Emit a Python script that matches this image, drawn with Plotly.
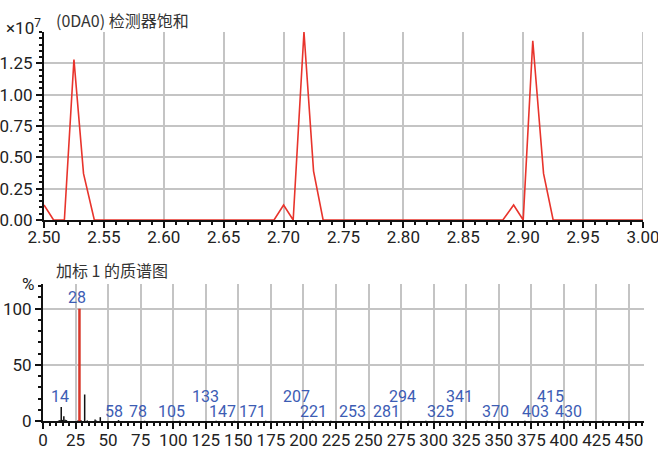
import plotly.graph_objects as go

# ---- chromatogram: detector saturation trace (time in min, intensity in counts)
chrom_time = [2.500, 2.508, 2.517, 2.525, 2.533, 2.542,
              2.692, 2.700, 2.708, 2.717, 2.725, 2.733,
              2.883, 2.892, 2.900, 2.908, 2.917, 2.925, 3.000]
chrom_intensity = [0.12e7, 0.0, 0.0, 1.28e7, 0.37e7, 0.0,
                   0.0, 0.12e7, 0.0, 1.50e7, 0.39e7, 0.0,
                   0.0, 0.12e7, 0.0, 1.43e7, 0.37e7, 0.0, 0.0]
chrom_yticks = [0.0, 0.25e7, 0.50e7, 0.75e7, 1.00e7, 1.25e7]
chrom_xticks = [2.50, 2.55, 2.60, 2.65, 2.70, 2.75, 2.80, 2.85, 2.90, 2.95, 3.00]

# ---- mass spectrum of spike 1 (m/z, relative abundance %)
base_mz = 28
base_abund = 100.0
ms_mz = [12, 13, 14, 15, 16, 17, 18, 27, 29, 32, 34, 40, 41, 44, 58,
         78, 105, 133, 147, 171, 207, 221, 253, 281, 294, 325, 341, 370,
         403, 415, 430]
ms_abund = [0.4, 0.8, 12.5, 1.0, 4.2, 1.2, 0.8, 0.6, 0.8, 23.6, 0.5, 1.4, 0.4, 3.4, 0.8,
            0.2, 0.2, 0.2, 0.2, 0.2, 0.3, 0.2, 0.2, 0.2, 0.2, 0.2, 0.2, 0.2,
            0.2, 0.2, 0.2]
labelled_mz = [14, 28, 58, 78, 105, 133, 147, 171, 207, 221, 253, 281, 294,
               325, 341, 370, 403, 415, 430]
upper_row_mz = [14, 133, 207, 294, 341, 415]

NUM_FONT = "Roboto, Liberation Sans, sans-serif"
CJK = "Noto Sans CJK SC, Noto Sans, sans-serif"
TXT = "#222222"
GRID = "#c4c4c4"
LABEL_BLUE = "#3c5cb4"
W, H = 658, 452


def px_x(p):
    return p / W


def px_y(p):
    return (H - p) / H


fig = go.Figure()

# chromatogram line
fig.add_trace(go.Scatter(
    x=chrom_time, y=chrom_intensity, mode="lines",
    line=dict(color="#e8342c", width=1.6), xaxis="x", yaxis="y",
    hoverinfo="skip", showlegend=False))

# spectrum sticks
sx, sy = [], []
for m, a in zip(ms_mz, ms_abund):
    sx += [m, m, None]
    sy += [0, a, None]
fig.add_trace(go.Scatter(
    x=sx, y=sy, mode="lines", line=dict(color="#111111", width=1.5),
    xaxis="x2", yaxis="y2", hoverinfo="skip", showlegend=False))
fig.add_trace(go.Scatter(
    x=[base_mz, base_mz], y=[0, base_abund], mode="lines",
    line=dict(color="#d8372a", width=2.5),
    xaxis="x2", yaxis="y2", hoverinfo="skip", showlegend=False))

axis_common = dict(
    showline=True, linecolor="#111111", linewidth=2,
    ticks="outside", ticklen=6, tickwidth=1.5, tickcolor="#111111",
    showgrid=True, gridcolor=GRID, gridwidth=2, zeroline=False,
    tickfont=dict(family=NUM_FONT, size=17, color=TXT),
    layer="below traces", fixedrange=True, automargin=False, tickangle=0,
    ticklabeloverflow="allow",
)

fig.update_layout(
    width=W, height=H, margin=dict(l=0, r=0, t=0, b=0, autoexpand=False),
    paper_bgcolor="white", plot_bgcolor="white", showlegend=False,
    xaxis=dict(axis_common, domain=[px_x(44), px_x(643)], range=[2.5, 3.0],
               tickvals=chrom_xticks, ticktext=[f"{v:.2f}" for v in chrom_xticks],
               minor=dict(dtick=0.01, ticklen=3, tickcolor="#111111", showgrid=False),
               ticklabelstandoff=-5, anchor="y"),
    yaxis=dict(axis_common, domain=[px_y(220), px_y(32)], range=[0, 1.5e7],
               tickvals=chrom_yticks, ticktext=[f"{v / 1e7:.2f}" for v in chrom_yticks],
               minor=dict(dtick=0.05e7, ticklen=3, tickcolor="#111111", showgrid=False),
               anchor="x"),
    xaxis2=dict(axis_common, domain=[px_x(43), px_x(644)], range=[0, 461.5],
                tick0=0, dtick=25,
                minor=dict(dtick=5, ticklen=3, tickcolor="#111111", showgrid=False),
                ticklabelstandoff=-3, anchor="y2"),
    yaxis2=dict(axis_common, domain=[px_y(421), px_y(284)], range=[0, 122],
                tickvals=[0, 50, 100],
                minor=dict(dtick=10, ticklen=3, tickcolor="#111111", showgrid=False),
                anchor="x2"),
    # scale used for placing the peak m/z labels
    xaxis3=dict(domain=[px_x(43), px_x(644)], range=[0, 491.7], visible=False,
                overlaying="x2", anchor="y2", fixedrange=True),
)

# grid line at the closing time tick (right edge of the chromatogram)
fig.add_shape(type="line", xref="x", yref="y domain",
              x0=chrom_xticks[-1], x1=chrom_xticks[-1], y0=0, y1=1,
              line=dict(color=GRID, width=2), layer="below")

annotations = [
    dict(text="(0DA0) 检测器饱和", x=px_x(54), y=px_y(20), xref="paper", yref="paper",
         xanchor="left", yanchor="middle", showarrow=False,
         font=dict(family=CJK, size=16, color="#333333")),
    dict(text="×10<sup>7</sup>", x=px_x(4), y=px_y(27), xref="paper", yref="paper",
         xanchor="left", yanchor="middle", showarrow=False,
         font=dict(family=NUM_FONT, size=17, color=TXT)),
    dict(text="加标 1 的质谱图", x=px_x(54), y=px_y(270), xref="paper", yref="paper",
         xanchor="left", yanchor="middle", showarrow=False,
         font=dict(family=CJK, size=16, color="#333333")),
    dict(text="%", x=px_x(28), y=px_y(284), xref="paper", yref="paper",
         xanchor="center", yanchor="middle", showarrow=False,
         font=dict(family=NUM_FONT, size=17, color=TXT)),
]

for m in labelled_mz:
    if m == base_mz:
        y = base_abund + 9.6
    elif m in upper_row_mz:
        y = 21.5
    else:
        y = 8.1
    annotations.append(dict(
        text=str(m), x=m, y=y, xref="x3", yref="y2", xanchor="center",
        yanchor="middle", showarrow=False,
        font=dict(family=NUM_FONT, size=16, color=LABEL_BLUE)))

fig.update_layout(annotations=annotations)

fig.write_html("out.html")
